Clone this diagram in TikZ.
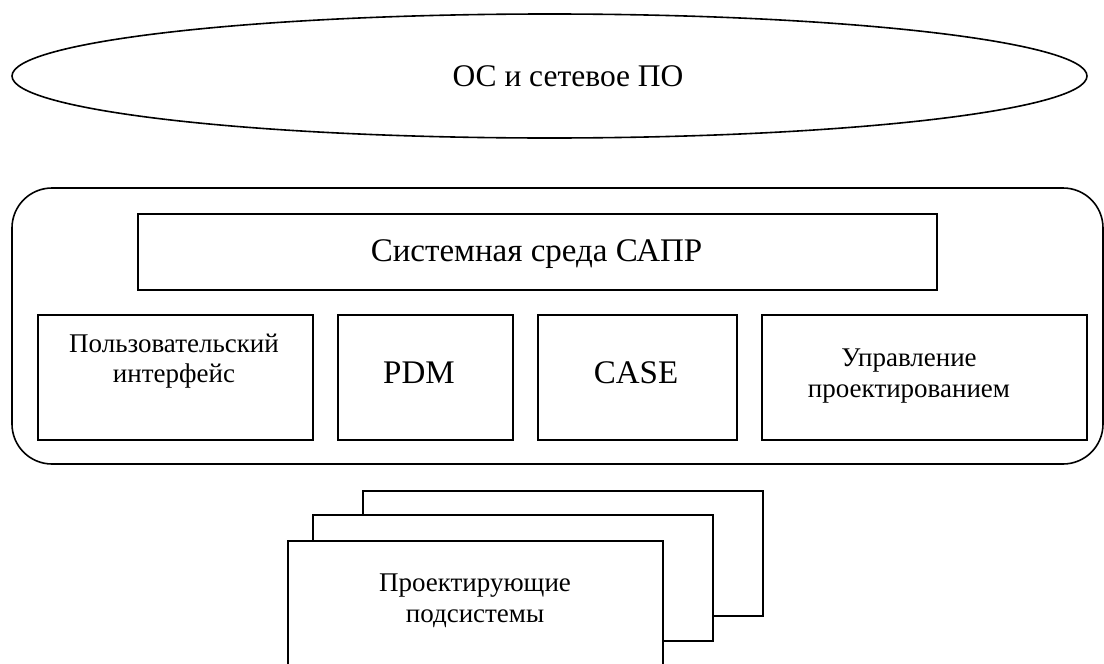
\documentclass[tikz,border=0pt]{standalone}
\usepackage{fontspec}
\setmainfont{Liberation Serif}
\usetikzlibrary{shapes.geometric}
\tikzset{
  ln/.style={line width=1.6pt, draw=black},
  boxs/.style={ln, rectangle, fill=white, inner sep=0pt, anchor=north west},
  big/.style={font=\fontsize{33}{38}\selectfont, inner sep=0pt},
  small/.style={font=\fontsize{27}{30.5}\selectfont, align=center, inner sep=0pt}
}
\begin{document}
\begin{tikzpicture}[x=1pt,y=-1pt]
\useasboundingbox (0,0) rectangle (1104,664);
% ellipse
\node[ln, ellipse, minimum width=1075pt, minimum height=124pt, inner sep=0pt] (os) at (549.5,76) {};
\node[font=\fontsize{31.5}{36}\selectfont, inner sep=0pt, anchor=base] (ostext) at (568,86) {ОС и сетевое ПО};
% rounded container
\node[ln, rectangle, rounded corners=40pt, minimum width=1091pt, minimum height=276pt, inner sep=0pt] (cad) at (557.5,326) {};
% system environment
\node[boxs, minimum width=799pt, minimum height=76pt] (env) at (137,213) {};
\node[big, anchor=base] (envtext) at (536.5,261) {Системная среда САПР};
% row boxes
\node[boxs, minimum width=275pt, minimum height=125pt] (ui) at (37,314) {};
\node[small] (uitext) at (174,361) {Пользовательский\\интерфейс};
\node[boxs, minimum width=175pt, minimum height=125pt] (pdm) at (337,314) {};
\node[big, anchor=base] (pdmtext) at (419,383) {PDM};
\node[boxs, minimum width=199pt, minimum height=125pt] (case) at (537,314) {};
\node[big, anchor=base] (casetext) at (636,383) {CASE};
\node[boxs, minimum width=325pt, minimum height=125pt] (mgmt) at (761,314) {};
\node[small] (mgmttext) at (909,376) {Управление\\проектированием};
% stacked subsystems
\node[boxs, minimum width=400pt, minimum height=125pt] (sub3) at (362,490) {};
\node[boxs, minimum width=400pt, minimum height=126pt] (sub2) at (312,514) {};
\node[boxs, minimum width=375pt, minimum height=140pt] (sub1) at (287,540) {};
\node[small] (subtext) at (475,601) {Проектирующие\\подсистемы};
\end{tikzpicture}
\end{document}
